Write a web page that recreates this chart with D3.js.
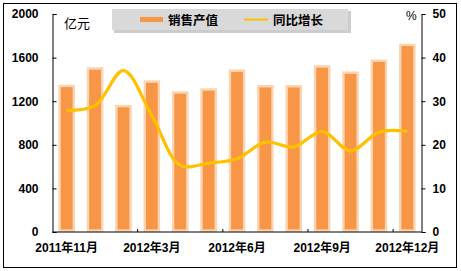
<!DOCTYPE html>
<html>
<head>
<meta charset="utf-8">
<script src="https://cdn.jsdelivr.net/npm/d3@7"></script>
<style>
  body { margin: 0; background: #fff; }
  svg text { font-family: "Liberation Sans", Arial, "Noto Sans CJK SC", sans-serif; font-weight: bold; fill: #000; }
</style>
</head>
<body>
<svg id="chart" width="461" height="271"></svg>
<script>
// months (Jan and Feb 2012 reported together)
var months = ["2011年11月", "2011年12月", "2012年2月", "2012年3月", "2012年4月", "2012年5月",
  "2012年6月", "2012年7月", "2012年8月", "2012年9月", "2012年10月", "2012年11月", "2012年12月"];
// 销售产值 (亿元)
var sales = [1340, 1500, 1155, 1380, 1280, 1307, 1480, 1337, 1337, 1519, 1462, 1571, 1717];
// 同比增长 (%)
var growth = [27.9, 29.0, 37.0, 26.7, 15.3, 15.8, 16.8, 20.6, 19.5, 23.1, 18.6, 22.9, 23.1];
var leftTicks = [0, 400, 800, 1200, 1600, 2000];
var rightTicks = [0, 10, 20, 30, 40, 50];
var labelIdx = [0, 3, 6, 9, 12];

var svg = d3.select('#chart');
var L = 52.5, R = 421.5, T = 14, B = 232;

// outer frame
svg.append('rect').attr('x', 3.5).attr('y', 3.5).attr('width', 453).attr('height', 264)
  .attr('fill', '#fff').attr('stroke', '#000').attr('stroke-width', 1);

var x = d3.scaleBand().domain(months).range([L, R]).paddingInner(0.5).paddingOuter(0.25);
var yL = d3.scaleLinear().domain([0, 2000]).range([B, T]);
var yR = d3.scaleLinear().domain([0, 50]).range([B, T]);
var cx = function(m) { return x(m) + x.bandwidth() / 2; };

// bars
svg.append('g').selectAll('rect').data(sales).enter().append('rect')
  .attr('x', function(d, i) { return x(months[i]); })
  .attr('width', x.bandwidth())
  .attr('y', function(d) { return yL(d); })
  .attr('height', function(d) { return yL(0) - yL(d) - 1.4; })
  .attr('fill', '#f79646')
  .attr('stroke', '#fbd4b2')
  .attr('stroke-width', 2.4);

// growth line
var line = d3.line()
  .x(function(d, i) { return cx(months[i]); })
  .y(function(d) { return yR(d); })
  .curve(d3.curveCatmullRom.alpha(0.5));
svg.append('path').datum(growth).attr('d', line)
  .attr('fill', 'none').attr('stroke', '#ffc000').attr('stroke-width', 3.2);

// left axis
var axL = svg.append('g').attr('transform', 'translate(' + L + ',0)')
  .call(d3.axisRight(yL).tickValues(leftTicks).tickSize(4).tickFormat(d3.format('d')));
axL.selectAll('text').attr('x', -14).attr('text-anchor', 'end').style('font-size', '12px');

// right axis
var axR = svg.append('g').attr('transform', 'translate(' + R + ',0)')
  .call(d3.axisRight(yR).tickValues(rightTicks).tickSize(4));
axR.selectAll('text').attr('x', 11).style('font-size', '12px');

// x axis
var axX = svg.append('g').attr('transform', 'translate(0,' + B + ')');
axX.append('line').attr('x1', L).attr('x2', R).attr('stroke', '#000');
axX.selectAll('line.tk').data([3, 6, 9, 12]).enter().append('line')
  .attr('x1', function(i) { return x(months[i]) - x.step() * x.paddingInner() / 2; })
  .attr('x2', function(i) { return x(months[i]) - x.step() * x.paddingInner() / 2; })
  .attr('y1', 0).attr('y2', -3).attr('stroke', '#000');
axX.selectAll('text').data(labelIdx).enter().append('text')
  .attr('x', function(i) { return cx(months[i]); })
  .attr('y', 20).attr('text-anchor', 'middle').style('font-size', '12px')
  .text(function(i) { return months[i]; });

[axL, axR].forEach(function(a) {
  a.select('.domain').attr('stroke', '#000');
  a.selectAll('.tick line').attr('stroke', '#000');
});

// units
svg.append('text').attr('x', 64).attr('y', 28).style('font-size', '13px').style('font-weight', 'normal').text('亿元');
svg.append('text').attr('x', 406).attr('y', 20).style('font-size', '12px').style('font-weight', 'normal').text('%');

// legend
var lg = svg.append('g');
lg.append('rect').attr('x', 114).attr('y', 11).attr('width', 237).attr('height', 22).attr('fill', '#9a9a9a').attr('opacity', 0.5);
lg.append('rect').attr('x', 112).attr('y', 9).attr('width', 236).attr('height', 21).attr('fill', '#d9d9d9');
lg.append('rect').attr('x', 140).attr('y', 17).attr('width', 23).attr('height', 5).attr('fill', '#f79646');
lg.append('text').attr('x', 168).attr('y', 24.5).style('font-size', '12.5px').text('销售产值');
lg.append('line').attr('x1', 244).attr('x2', 268).attr('y1', 19.5).attr('y2', 19.5).attr('stroke', '#ffc000').attr('stroke-width', 2);
lg.append('text').attr('x', 273).attr('y', 24.5).style('font-size', '12.5px').text('同比增长');
</script>
</body>
</html>
